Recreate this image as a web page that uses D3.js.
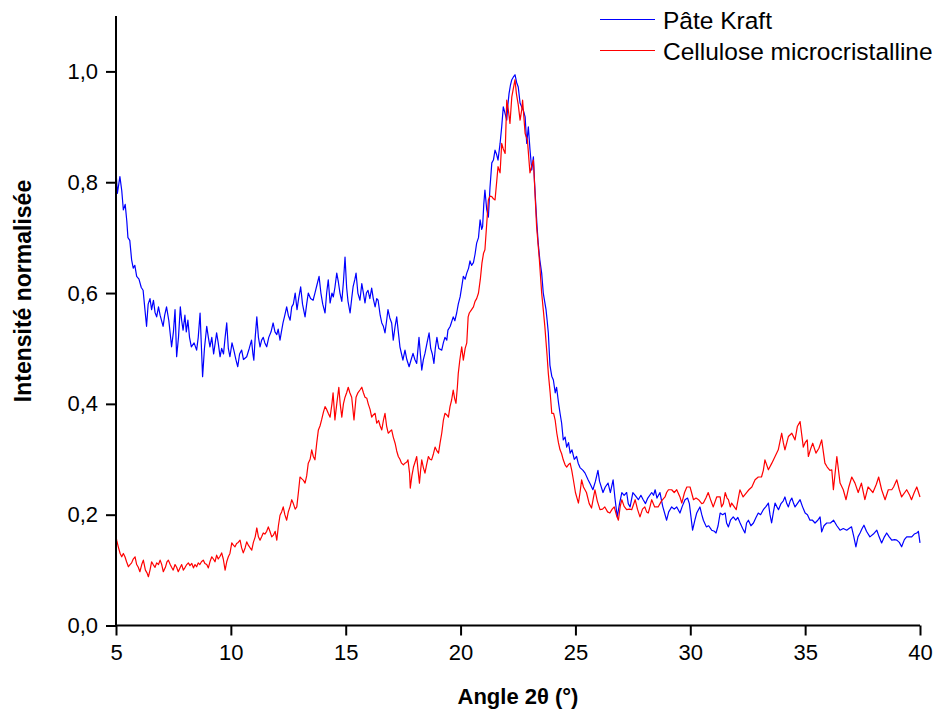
<!DOCTYPE html>
<html>
<head>
<meta charset="utf-8">
<script src="https://cdn.jsdelivr.net/npm/d3@7"></script>
<style>
  html, body { margin: 0; padding: 0; background: #fff; }
  svg { display: block; }
  text { font-family: "Liberation Sans", Arial, sans-serif; fill: #000; }
</style>
</head>
<body>
<svg id="chart" width="940" height="710"></svg>
<script>
// Diffractogrammes X normalisés : [angle 2θ (°), intensité normalisée]
const pateKraft = [
  [5.00,0.82],[5.06,0.78],[5.17,0.81],[5.25,0.785],[5.32,0.75],[5.40,0.76],[5.47,0.73],[5.52,0.70],
  [5.60,0.695],[5.68,0.66],[5.75,0.645],[5.82,0.65],[5.90,0.63],[6.00,0.625],[6.10,0.61],[6.18,0.605],
  [6.26,0.57],[6.33,0.54],[6.40,0.58],[6.48,0.59],[6.55,0.57],[6.63,0.587],[6.70,0.565],[6.77,0.557],
  [6.85,0.575],[6.92,0.56],[7.05,0.54],[7.12,0.56],[7.20,0.575],[7.30,0.55],[7.42,0.503],[7.50,0.53],
  [7.57,0.57],[7.64,0.485],[7.72,0.52],[7.80,0.575],[7.86,0.55],[7.92,0.533],[8.00,0.56],[8.06,0.53],
  [8.13,0.551],[8.20,0.52],[8.28,0.503],[8.40,0.51],[8.51,0.497],[8.58,0.52],[8.66,0.564],[8.77,0.449],
  [8.85,0.50],[8.95,0.54],[9.02,0.52],[9.09,0.503],[9.17,0.52],[9.25,0.49],[9.38,0.528],[9.45,0.51],
  [9.53,0.485],[9.60,0.50],[9.68,0.49],[9.75,0.52],[9.82,0.546],[9.89,0.50],[9.96,0.485],[10.05,0.51],
  [10.13,0.497],[10.22,0.48],[10.30,0.467],[10.38,0.49],[10.47,0.497],[10.55,0.48],[10.69,0.485],[10.80,0.50],
  [10.90,0.515],[10.96,0.49],[11.00,0.479],[11.06,0.52],[11.13,0.557],[11.20,0.52],[11.27,0.503],[11.34,0.515],
  [11.41,0.52],[11.48,0.51],[11.56,0.503],[11.65,0.52],[11.75,0.53],[11.84,0.546],[11.92,0.53],[12.00,0.525],
  [12.06,0.535],[12.14,0.515],[12.20,0.53],[12.27,0.546],[12.35,0.56],[12.43,0.575],[12.50,0.56],[12.58,0.551],
  [12.65,0.575],[12.72,0.58],[12.80,0.60],[12.88,0.57],[12.95,0.59],[13.04,0.611],[13.12,0.58],[13.23,0.557],
  [13.30,0.58],[13.37,0.60],[13.47,0.59],[13.58,0.587],[13.66,0.60],[13.75,0.615],[13.84,0.63],[13.92,0.60],
  [14.00,0.58],[14.10,0.564],[14.17,0.60],[14.24,0.624],[14.32,0.582],[14.40,0.60],[14.46,0.593],[14.53,0.61],
  [14.61,0.636],[14.68,0.62],[14.75,0.60],[14.83,0.585],[14.90,0.62],[14.97,0.665],[15.04,0.61],[15.10,0.585],
  [15.19,0.564],[15.26,0.59],[15.32,0.611],[15.40,0.625],[15.45,0.636],[15.53,0.60],[15.62,0.587],[15.70,0.617],
  [15.77,0.60],[15.84,0.582],[15.90,0.60],[15.97,0.605],[16.05,0.59],[16.13,0.609],[16.20,0.59],[16.28,0.575],
  [16.35,0.59],[16.41,0.587],[16.50,0.56],[16.57,0.546],[16.64,0.54],[16.71,0.528],[16.78,0.55],[16.84,0.57],
  [16.92,0.555],[17.00,0.546],[17.07,0.515],[17.15,0.54],[17.22,0.557],[17.29,0.53],[17.36,0.503],[17.43,0.49],
  [17.49,0.479],[17.58,0.497],[17.66,0.48],[17.76,0.467],[17.85,0.48],[17.93,0.491],[18.01,0.48],[18.09,0.473],
  [18.19,0.52],[18.25,0.49],[18.31,0.461],[18.38,0.48],[18.45,0.491],[18.54,0.51],[18.63,0.528],[18.70,0.50],
  [18.77,0.49],[18.84,0.473],[18.90,0.50],[18.97,0.52],[19.05,0.50],[19.18,0.497],[19.25,0.51],[19.32,0.52],
  [19.40,0.515],[19.45,0.533],[19.55,0.54],[19.68,0.557],[19.75,0.55],[19.83,0.564],[19.90,0.58],[19.98,0.593],
  [20.05,0.611],[20.12,0.63],[20.20,0.625],[20.27,0.636],[20.35,0.645],[20.41,0.658],[20.48,0.65],[20.56,0.655],
  [20.63,0.67],[20.70,0.69],[20.78,0.70],[20.85,0.732],[20.92,0.715],[20.96,0.72],[21.01,0.76],[21.06,0.786],
  [21.14,0.75],[21.21,0.737],[21.28,0.79],[21.36,0.835],[21.43,0.84],[21.50,0.858],[21.57,0.85],[21.63,0.84],
  [21.72,0.87],[21.79,0.90],[21.86,0.936],[21.93,0.925],[22.01,0.912],[22.06,0.94],[22.11,0.96],[22.17,0.975],
  [22.23,0.985],[22.30,0.99],[22.37,0.994],[22.44,0.98],[22.51,0.972],[22.59,0.943],[22.66,0.936],[22.73,0.93],
  [22.81,0.918],[22.88,0.87],[22.95,0.90],[23.02,0.86],[23.10,0.822],[23.17,0.846],[23.22,0.80],[23.28,0.755],
  [23.33,0.72],[23.38,0.69],[23.45,0.66],[23.53,0.636],[23.60,0.60],[23.66,0.585],[23.72,0.57],[23.77,0.55],
  [23.82,0.528],[23.89,0.47],[23.97,0.45],[24.04,0.443],[24.12,0.42],[24.18,0.43],[24.27,0.40],[24.33,0.383],
  [24.40,0.365],[24.47,0.335],[24.55,0.34],[24.62,0.322],[24.70,0.33],[24.77,0.311],[24.85,0.317],[24.95,0.30],
  [25.05,0.305],[25.12,0.293],[25.20,0.285],[25.33,0.28],[25.42,0.275],[25.55,0.263],[25.65,0.255],[25.76,0.245],
  [25.87,0.26],[25.98,0.28],[26.05,0.26],[26.20,0.24],[26.30,0.25],[26.42,0.257],[26.52,0.24],[26.64,0.263],
  [26.72,0.23],[26.82,0.196],[26.92,0.22],[27.02,0.24],[27.12,0.235],[27.23,0.24],[27.30,0.22],[27.38,0.214],
  [27.50,0.24],[27.60,0.235],[27.74,0.227],[27.85,0.235],[27.95,0.227],[28.05,0.22],[28.15,0.23],[28.32,0.24],
  [28.40,0.235],[28.47,0.245],[28.55,0.23],[28.68,0.24],[28.80,0.215],[28.97,0.19],[29.06,0.205],[29.19,0.214],
  [29.30,0.21],[29.41,0.214],[29.55,0.203],[29.65,0.215],[29.77,0.227],[29.88,0.23],[29.96,0.22],[30.10,0.172],
  [30.20,0.19],[30.28,0.203],[30.42,0.214],[30.50,0.20],[30.57,0.19],[30.70,0.178],[30.80,0.18],[30.93,0.172],
  [31.05,0.17],[31.12,0.167],[31.21,0.18],[31.30,0.203],[31.41,0.20],[31.52,0.203],[31.58,0.185],[31.66,0.178],
  [31.75,0.19],[31.87,0.196],[31.98,0.19],[32.07,0.195],[32.17,0.185],[32.28,0.175],[32.38,0.167],[32.45,0.185],
  [32.53,0.19],[32.64,0.18],[32.75,0.185],[32.86,0.195],[32.96,0.203],[33.06,0.20],[33.18,0.209],[33.30,0.215],
  [33.40,0.221],[33.47,0.20],[33.54,0.185],[33.62,0.205],[33.69,0.221],[33.76,0.215],[33.84,0.209],[33.95,0.22],
  [34.05,0.225],[34.12,0.232],[34.20,0.22],[34.27,0.214],[34.35,0.225],[34.42,0.23],[34.50,0.22],[34.56,0.214],
  [34.66,0.22],[34.78,0.227],[34.88,0.215],[35.00,0.203],[35.10,0.20],[35.21,0.19],[35.32,0.19],[35.43,0.185],
  [35.55,0.19],[35.65,0.196],[35.72,0.169],[35.82,0.18],[35.94,0.185],[36.10,0.185],[36.24,0.19],[36.38,0.18],
  [36.52,0.172],[36.66,0.175],[36.81,0.172],[36.91,0.175],[37.02,0.178],[37.12,0.16],[37.21,0.142],[37.30,0.16],
  [37.39,0.167],[37.48,0.175],[37.56,0.181],[37.67,0.17],[37.82,0.16],[37.97,0.165],[38.12,0.172],[38.22,0.16],
  [38.33,0.149],[38.45,0.16],[38.55,0.167],[38.66,0.16],[38.77,0.154],[38.90,0.155],[38.99,0.154],[39.10,0.15],
  [39.20,0.142],[39.32,0.155],[39.42,0.16],[39.55,0.16],[39.64,0.16],[39.75,0.165],[39.86,0.167],[39.93,0.17],
  [40.00,0.149]
];

const celluloseMicro = [
  [5.00,0.16],[5.03,0.154],[5.10,0.142],[5.18,0.13],[5.25,0.124],[5.32,0.13],[5.39,0.124],[5.46,0.115],
  [5.54,0.106],[5.61,0.11],[5.68,0.113],[5.75,0.12],[5.83,0.124],[5.90,0.11],[5.97,0.105],[6.04,0.097],
  [6.12,0.11],[6.19,0.118],[6.28,0.10],[6.35,0.095],[6.41,0.088],[6.48,0.10],[6.55,0.115],[6.62,0.11],
  [6.70,0.105],[6.77,0.113],[6.85,0.11],[6.92,0.118],[6.99,0.11],[7.06,0.097],[7.15,0.105],[7.22,0.115],
  [7.28,0.118],[7.36,0.11],[7.42,0.105],[7.49,0.10],[7.57,0.11],[7.64,0.105],[7.71,0.097],[7.80,0.105],
  [7.86,0.11],[7.93,0.10],[8.01,0.105],[8.08,0.11],[8.15,0.113],[8.22,0.108],[8.30,0.112],[8.37,0.104],
  [8.44,0.11],[8.51,0.106],[8.58,0.113],[8.65,0.11],[8.72,0.115],[8.80,0.118],[8.87,0.112],[8.95,0.11],
  [9.02,0.104],[9.09,0.115],[9.17,0.124],[9.24,0.12],[9.31,0.115],[9.38,0.127],[9.45,0.12],[9.53,0.125],
  [9.60,0.131],[9.67,0.12],[9.75,0.10],[9.82,0.115],[9.89,0.124],[9.96,0.13],[10.04,0.149],[10.11,0.145],
  [10.18,0.142],[10.25,0.148],[10.32,0.15],[10.40,0.154],[10.47,0.14],[10.54,0.131],[10.62,0.14],[10.69,0.151],
  [10.76,0.145],[10.84,0.14],[10.91,0.136],[10.98,0.15],[11.06,0.16],[11.13,0.176],[11.20,0.16],[11.27,0.154],
  [11.34,0.16],[11.41,0.167],[11.48,0.165],[11.56,0.17],[11.63,0.178],[11.70,0.17],[11.78,0.16],[11.85,0.163],
  [11.93,0.17],[12.00,0.154],[12.07,0.18],[12.14,0.199],[12.21,0.205],[12.28,0.214],[12.35,0.20],[12.43,0.19],
  [12.50,0.205],[12.58,0.215],[12.65,0.227],[12.72,0.22],[12.80,0.21],[12.87,0.214],[12.94,0.24],[13.01,0.268],
  [13.08,0.265],[13.16,0.262],[13.23,0.257],[13.30,0.27],[13.37,0.293],[13.45,0.30],[13.52,0.317],[13.59,0.305],
  [13.66,0.299],[13.74,0.33],[13.81,0.353],[13.88,0.36],[13.95,0.371],[14.03,0.385],[14.10,0.395],[14.17,0.39],
  [14.24,0.383],[14.32,0.376],[14.40,0.40],[14.45,0.42],[14.50,0.39],[14.53,0.371],[14.61,0.40],[14.70,0.43],
  [14.76,0.40],[14.83,0.376],[14.90,0.40],[14.97,0.412],[15.04,0.42],[15.11,0.43],[15.18,0.42],[15.26,0.412],
  [15.36,0.371],[15.45,0.412],[15.53,0.42],[15.62,0.425],[15.70,0.43],[15.77,0.42],[15.84,0.412],[15.92,0.41],
  [15.98,0.40],[16.06,0.39],[16.13,0.376],[16.20,0.38],[16.28,0.383],[16.35,0.365],[16.43,0.37],[16.50,0.36],
  [16.57,0.353],[16.64,0.37],[16.71,0.383],[16.78,0.36],[16.85,0.347],[16.92,0.35],[17.00,0.353],[17.07,0.34],
  [17.15,0.329],[17.22,0.315],[17.29,0.305],[17.36,0.30],[17.43,0.293],[17.51,0.29],[17.58,0.293],[17.66,0.295],
  [17.71,0.299],[17.78,0.275],[17.81,0.248],[17.88,0.27],[17.95,0.286],[18.02,0.295],[18.09,0.305],[18.15,0.28],
  [18.21,0.257],[18.26,0.28],[18.31,0.299],[18.38,0.285],[18.45,0.275],[18.52,0.29],[18.60,0.305],[18.67,0.30],
  [18.74,0.299],[18.82,0.31],[18.89,0.322],[18.97,0.315],[19.04,0.311],[19.11,0.33],[19.18,0.347],[19.25,0.37],
  [19.32,0.383],[19.40,0.38],[19.47,0.376],[19.54,0.395],[19.61,0.407],[19.68,0.425],[19.74,0.41],[19.80,0.401],
  [19.86,0.43],[19.90,0.455],[19.97,0.48],[20.05,0.503],[20.12,0.479],[20.20,0.50],[20.27,0.51],[20.33,0.557],
  [20.38,0.564],[20.48,0.57],[20.56,0.575],[20.63,0.585],[20.70,0.59],[20.78,0.60],[20.86,0.625],[20.93,0.654],
  [21.00,0.672],[21.06,0.678],[21.14,0.726],[21.21,0.768],[21.28,0.775],[21.36,0.774],[21.43,0.77],[21.50,0.768],
  [21.57,0.80],[21.63,0.828],[21.72,0.817],[21.79,0.87],[21.86,0.86],[21.94,0.852],[22.01,0.948],[22.08,0.93],
  [22.15,0.906],[22.23,0.954],[22.30,0.97],[22.37,0.985],[22.43,0.96],[22.51,0.94],[22.59,0.912],[22.66,0.93],
  [22.70,0.948],[22.81,0.888],[22.91,0.876],[23.02,0.817],[23.10,0.83],[23.17,0.84],[23.24,0.78],[23.31,0.72],
  [23.43,0.66],[23.53,0.60],[23.60,0.57],[23.67,0.539],[23.77,0.485],[23.82,0.455],[23.90,0.42],[23.97,0.383],
  [24.05,0.383],[24.12,0.37],[24.19,0.347],[24.26,0.33],[24.33,0.317],[24.40,0.31],[24.47,0.299],[24.55,0.29],
  [24.62,0.286],[24.69,0.29],[24.77,0.293],[24.84,0.28],[24.91,0.263],[25.00,0.24],[25.13,0.221],[25.20,0.24],
  [25.27,0.263],[25.35,0.25],[25.48,0.24],[25.60,0.22],[25.70,0.212],[25.78,0.23],[25.85,0.245],[25.95,0.225],
  [26.07,0.209],[26.18,0.21],[26.28,0.214],[26.40,0.205],[26.50,0.203],[26.60,0.21],[26.69,0.214],[26.78,0.20],
  [26.87,0.19],[26.95,0.215],[27.02,0.227],[27.12,0.215],[27.23,0.209],[27.35,0.21],[27.45,0.209],[27.60,0.227],
  [27.70,0.21],[27.81,0.196],[27.92,0.21],[28.02,0.214],[28.10,0.205],[28.17,0.203],[28.25,0.215],[28.32,0.227],
  [28.45,0.214],[28.60,0.214],[28.75,0.225],[28.90,0.232],[28.97,0.24],[29.05,0.245],[29.19,0.245],[29.30,0.24],
  [29.41,0.245],[29.55,0.232],[29.63,0.221],[29.75,0.24],[29.85,0.25],[29.99,0.25],[30.14,0.227],[30.25,0.23],
  [30.36,0.227],[30.50,0.22],[30.57,0.221],[30.68,0.23],[30.78,0.24],[30.90,0.225],[31.00,0.214],[31.15,0.232],
  [31.30,0.232],[31.36,0.214],[31.44,0.22],[31.52,0.24],[31.60,0.23],[31.66,0.227],[31.74,0.214],[31.80,0.221],
  [31.90,0.215],[32.00,0.209],[32.16,0.245],[32.30,0.232],[32.45,0.24],[32.55,0.245],[32.68,0.25],[32.82,0.263],
  [32.96,0.268],[33.10,0.268],[33.18,0.28],[33.25,0.299],[33.40,0.281],[33.55,0.293],[33.69,0.305],[33.83,0.317],
  [33.98,0.347],[34.05,0.33],[34.12,0.317],[34.27,0.341],[34.42,0.347],[34.56,0.335],[34.66,0.359],[34.78,0.368],
  [34.85,0.345],[34.92,0.322],[35.00,0.33],[35.09,0.335],[35.14,0.305],[35.25,0.32],[35.33,0.329],[35.47,0.311],
  [35.60,0.32],[35.72,0.335],[35.86,0.293],[35.96,0.286],[36.08,0.28],[36.16,0.281],[36.23,0.245],[36.38,0.305],
  [36.52,0.257],[36.66,0.245],[36.78,0.227],[36.90,0.25],[37.03,0.268],[37.17,0.257],[37.31,0.24],[37.45,0.257],
  [37.60,0.227],[37.74,0.25],[37.95,0.24],[38.10,0.255],[38.20,0.268],[38.33,0.245],[38.48,0.227],[38.62,0.245],
  [38.77,0.245],[38.85,0.25],[38.99,0.263],[39.10,0.245],[39.20,0.232],[39.42,0.245],[39.55,0.235],[39.63,0.227],
  [39.75,0.24],[39.86,0.25],[40.00,0.232]
];

const seriesNames = ["Pâte Kraft", "Cellulose microcristalline"];
const seriesColors = ["#0000ff", "#ff0000"];
const xTicks = [5, 10, 15, 20, 25, 30, 35, 40];
const yTicks = [0, 0.2, 0.4, 0.6, 0.8, 1.0];

const svg = d3.select("#chart");
const plotLeft = 116, plotRight = 920, plotTop = 16, plotBottom = 625.5;

const x = d3.scaleLinear().domain([5, 40]).range([plotLeft, plotRight]);
const y = d3.scaleLinear().domain([0, 1.1]).range([plotBottom, plotTop]);

const fmtComma = d => d3.format(".1f")(d).replace(".", ",");

// Courbes
const line = d3.line().x(d => x(d[0])).y(d => y(d[1]));
[pateKraft, celluloseMicro].forEach((data, i) => {
  svg.append("path")
    .datum(data)
    .attr("fill", "none")
    .attr("stroke", seriesColors[i])
    .attr("stroke-width", 1.2)
    .attr("stroke-linejoin", "round")
    .attr("d", line);
});

// Axes
const xAxis = d3.axisBottom(x).tickValues(xTicks).tickFormat(d3.format("d"))
  .tickSizeInner(10).tickSizeOuter(0).tickPadding(9);
const yAxis = d3.axisLeft(y).tickValues(yTicks).tickFormat(fmtComma)
  .tickSizeInner(10).tickSizeOuter(0).tickPadding(8);

const gx = svg.append("g").attr("transform", `translate(0,${plotBottom})`).call(xAxis);
const gy = svg.append("g").attr("transform", `translate(${plotLeft},0)`).call(yAxis);

[gx, gy].forEach(g => {
  g.select(".domain").attr("stroke", "#000").attr("stroke-width", 2);
  g.selectAll(".tick line").attr("stroke", "#000").attr("stroke-width", 2);
  g.selectAll(".tick text")
    .attr("font-family", "'Liberation Sans', Arial, sans-serif")
    .attr("font-size", 22).attr("fill", "#000");
});
// Lignes d'axe sur toute l'étendue du cadre
gy.select(".domain").attr("d", `M0,${plotBottom}V${plotTop}`);
gx.select(".domain").attr("d", `M${plotLeft},0H${plotRight}`);

// Titres des axes
svg.append("text")
  .attr("x", (plotLeft + plotRight) / 2).attr("y", 704)
  .attr("text-anchor", "middle")
  .attr("font-size", 22).attr("font-weight", "bold")
  .text("Angle 2θ (°)");

svg.append("text")
  .attr("transform", "translate(31,291) rotate(-90)")
  .attr("text-anchor", "middle")
  .attr("font-size", 23).attr("font-weight", "bold")
  .text("Intensité normalisée");

// Légende
const legend = svg.append("g");
seriesNames.forEach((name, i) => {
  const ly = 19.5 + i * 31;
  legend.append("line")
    .attr("x1", 600).attr("x2", 655).attr("y1", ly).attr("y2", ly)
    .attr("stroke", seriesColors[i]).attr("stroke-width", 1.2);
  legend.append("text")
    .attr("x", 663).attr("y", ly + 9)
    .attr("font-size", 24.5)
    .text(name);
});
</script>
</body>
</html>
